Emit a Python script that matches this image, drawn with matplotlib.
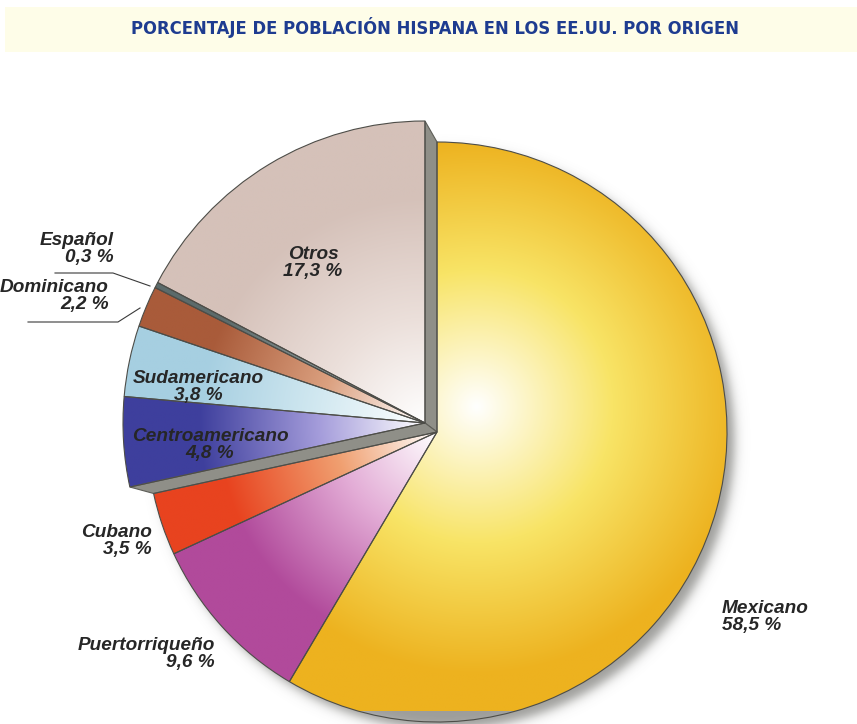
"""Pie chart: share of the Hispanic population in the US by origin."""
import numpy as np
import matplotlib
matplotlib.use("Agg")
import matplotlib.pyplot as plt
from matplotlib import font_manager as fm
from matplotlib.patches import Polygon, Rectangle
from matplotlib.colors import to_rgb

W, H = 857, 724

origins = ["Mexicano", "Puertorriqueño", "Cubano", "Centroamericano",
           "Sudamericano", "Dominicano", "Español", "Otros"]
shares = [58.5, 9.6, 3.5, 4.8, 3.8, 2.2, 0.3, 17.3]
share_labels = ["58,5 %", "9,6 %", "3,5 %", "4,8 %", "3,8 %", "2,2 %", "0,3 %", "17,3 %"]
# rim colour and the lighter tint reached part way to the centre
rim_colors = ["#edb21f", "#b14a9b", "#e8431f", "#3e3f9d",
              "#a6cfe1", "#a95b3a", "#5c6b6b", "#d5c1b9"]
mid_colors = ["#f8e466", "#e3acd6", "#f0a071", "#a59ddb",
              "#d3e9f1", "#dba07f", "#8a9898", "#ebdfda"]
pulled_out = ["Centroamericano", "Sudamericano", "Dominicano", "Español", "Otros"]

TITLE = "PORCENTAJE DE POBLACIÓN HISPANA EN LOS EE.UU. POR ORIGEN"


def py(y):
    # pixel row (top = 0) -> data y
    return H - y


def radial_fill(ax, wedge, center, radius, rim, mid, stops, z):
    n = 320
    x0, y0 = center
    xs = np.linspace(x0 - radius, x0 + radius, n)
    ys = np.linspace(y0 - radius, y0 + radius, n)
    xx, yy = np.meshgrid(xs, ys)
    t = np.hypot(xx - x0, yy - y0) / radius
    cols = [np.ones(3), np.array(to_rgb(mid)), np.array(to_rgb(rim)), np.array(to_rgb(rim))]
    img = np.zeros((n, n, 3))
    for k in range(3):
        img[..., k] = np.interp(t, stops, [c[k] for c in cols])
    im = ax.imshow(img, extent=(xs[0], xs[-1], ys[0], ys[-1]), origin="lower",
                   interpolation="bilinear", zorder=z)
    im.set_clip_path(wedge)


WEIGHTS = {"ultralight": 200, "light": 300, "normal": 400, "regular": 400,
           "book": 400, "medium": 500, "semibold": 600, "demibold": 600,
           "bold": 700, "heavy": 800, "extra bold": 800, "black": 900}


def title_font():
    # the narrowest fairly heavy sans that is installed
    best, best_score = None, None
    for f in fm.fontManager.ttflist:
        key = (f.name + " " + f.fname + " " + str(f.stretch)).lower().replace("-", "")
        if not ("narrow" in key or "condensed" in key):
            continue
        if "mono" in key or "serif" in key or f.style != "normal":
            continue
        w = f.weight if isinstance(f.weight, int) else WEIGHTS.get(str(f.weight).lower(), 400)
        if w < 500 or w > 800:
            continue
        score = abs(w - 650)
        if "semicondensed" in key:
            score += 150
        if "extracondensed" in key or "ultracondensed" in key:
            score += 60
        if best_score is None or score < best_score:
            best, best_score = f, score
    if best is not None:
        return fm.FontProperties(fname=best.fname)
    return fm.FontProperties(family="Open Sans", weight="semibold")


fig = plt.figure(figsize=(W / 100, H / 100), dpi=100)
ax = fig.add_axes([0, 0, 1, 1])

cx, cy, R = 437, py(432), 290
R_out = 302
shift = np.array([-12.0, 9.0])

wedges, _ = ax.pie(shares, center=(cx, cy), radius=R, startangle=90,
                   counterclock=False, frame=True,
                   wedgeprops=dict(facecolor="none", edgecolor="#4d4d48",
                                   linewidth=0.8, zorder=4))
ax.set_aspect("equal")
ax.set_xlim(0, W)
ax.set_ylim(0, H)
ax.axis("off")

# soft drop shadow under the whole disc
n = 500
sx, sy = cx + 8, cy - 8
gx = np.linspace(cx - R - 40, cx + R + 40, n)
gy = np.linspace(cy - R - 40, cy + R + 40, n)
GX, GY = np.meshgrid(gx, gy)
d = np.hypot(GX - sx, GY - sy)
shadow = np.zeros((n, n, 4))
shadow[..., :3] = (0.36, 0.36, 0.34)
shadow[..., 3] = 0.6 * 0.5 * (1 - np.tanh((d - R) / 6.5))
ax.imshow(shadow, extent=(gx[0], gx[-1], gy[0], gy[-1]), origin="lower",
          interpolation="bilinear", zorder=0.5)

for name, w, rim, mid in zip(origins, wedges, rim_colors, mid_colors):
    if name in pulled_out:
        w.set_center((cx + shift[0], cy + shift[1]))
        w.set_radius(R_out)
    c = np.array(w.center, dtype=float)
    if name == "Mexicano":
        radial_fill(ax, w, (c[0] + 40, c[1] + 25), R * 1.05, rim, mid,
                    [0, 0.45, 0.88, 1.0], 1)
    else:
        radial_fill(ax, w, c, w.r, rim, mid, [0, 0.35, 0.75, 1.0], 1)

# side walls left visible where the group is pulled out
w_otros = wedges[origins.index("Otros")]
w_centro = wedges[origins.index("Centroamericano")]
g = np.array([cx, cy]) + shift
c0 = np.array([cx, cy], dtype=float)
for ang in (w_otros.theta1, w_centro.theta2):
    u = np.array([np.cos(np.radians(ang)), np.sin(np.radians(ang))])
    wall = Polygon([g, g + R_out * u, c0 + R * u, c0], closed=True,
                   facecolor="#8f8f88", edgecolor="#5e5e58", linewidth=0.8,
                   zorder=2)
    ax.add_patch(wall)

# title band
ax.add_patch(Rectangle((5, py(52)), W - 5, 45, facecolor="#fefde8",
                       edgecolor="none", zorder=0))
title = ax.text(435, py(28), TITLE, ha="center", va="center",
                color="#1e3c90", fontproperties=title_font())
title.set_fontsize(18)
fig.canvas.draw()
tw = title.get_window_extent().width
title.set_fontsize(18 * 606 / tw)

lab = dict(fontsize=13.7, color="#262626", weight="bold", style="italic",
           family=["Liberation Sans", "DejaVu Sans"], linespacing=0.95, zorder=6)
label_pos = {
    "Mexicano": (722, 617, "left"),
    "Puertorriqueño": (215, 654, "right"),
    "Cubano": (152, 541, "right"),
    "Centroamericano": (210, 445, "center"),
    "Sudamericano": (198, 387, "center"),
    "Dominicano": (109, 296, "right"),
    "Español": (114, 249, "right"),
    "Otros": (313, 263, "center"),
}
for name, txt in zip(origins, share_labels):
    x, y, ha = label_pos[name]
    ax.text(x, py(y), f"{name}\n{txt}", ha=ha, va="center",
            multialignment=ha, **lab)

# leader lines for the two thin slices
ax.plot([55, 113, 150], [py(273), py(273), py(286)], color="#3a3a3a",
        lw=0.8, zorder=6)
ax.plot([28, 118, 140], [py(322), py(322), py(308)], color="#3a3a3a",
        lw=0.8, zorder=6)

fig.savefig("out.png", dpi=100, facecolor="white")
